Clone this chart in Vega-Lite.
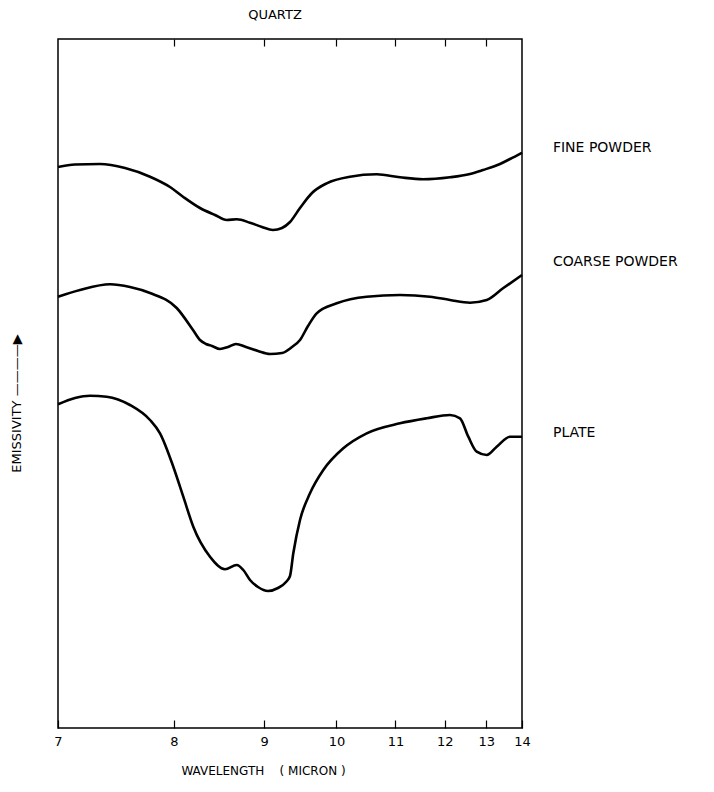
{
  "$schema": "https://vega.github.io/schema/vega-lite/v6.json",
  "width": 464,
  "height": 689,
  "autosize": {"type": "none"},
  "padding": {"left": 58, "top": 39, "right": 192, "bottom": 64},
  "background": "white",
  "config": {
    "view": {"stroke": "black", "strokeWidth": 1.5},
    "font": "DejaVu Sans"
  },
  "title": {"text": "QUARTZ", "fontSize": 13, "fontWeight": "normal", "font": "DejaVu Sans", "color": "black", "offset": 16, "dx": -15},
  "datasets": {
    "curves": [
      {"sample": "FINE POWDER", "wavelength": 7.0, "emissivity": 561},
      {"sample": "FINE POWDER", "wavelength": 7.1306, "emissivity": 563.5},
      {"sample": "FINE POWDER", "wavelength": 7.3318, "emissivity": 564},
      {"sample": "FINE POWDER", "wavelength": 7.5448, "emissivity": 560},
      {"sample": "FINE POWDER", "wavelength": 7.7704, "emissivity": 551.3},
      {"sample": "FINE POWDER", "wavelength": 7.9608, "emissivity": 541},
      {"sample": "FINE POWDER", "wavelength": 8.0897, "emissivity": 531.3},
      {"sample": "FINE POWDER", "wavelength": 8.2646, "emissivity": 520},
      {"sample": "FINE POWDER", "wavelength": 8.4254, "emissivity": 513},
      {"sample": "FINE POWDER", "wavelength": 8.5552, "emissivity": 508},
      {"sample": "FINE POWDER", "wavelength": 8.6694, "emissivity": 508.7},
      {"sample": "FINE POWDER", "wavelength": 8.8261, "emissivity": 505.3},
      {"sample": "FINE POWDER", "wavelength": 8.9724, "emissivity": 501},
      {"sample": "FINE POWDER", "wavelength": 9.1108, "emissivity": 498},
      {"sample": "FINE POWDER", "wavelength": 9.2273, "emissivity": 500},
      {"sample": "FINE POWDER", "wavelength": 9.3333, "emissivity": 506},
      {"sample": "FINE POWDER", "wavelength": 9.4694, "emissivity": 520},
      {"sample": "FINE POWDER", "wavelength": 9.6379, "emissivity": 535},
      {"sample": "FINE POWDER", "wavelength": 9.8528, "emissivity": 544.7},
      {"sample": "FINE POWDER", "wavelength": 10.2138, "emissivity": 551.3},
      {"sample": "FINE POWDER", "wavelength": 10.6614, "emissivity": 553.7},
      {"sample": "FINE POWDER", "wavelength": 11.0853, "emissivity": 550.7},
      {"sample": "FINE POWDER", "wavelength": 11.5382, "emissivity": 548.7},
      {"sample": "FINE POWDER", "wavelength": 12.1194, "emissivity": 550.7},
      {"sample": "FINE POWDER", "wavelength": 12.5892, "emissivity": 554},
      {"sample": "FINE POWDER", "wavelength": 12.9145, "emissivity": 558},
      {"sample": "FINE POWDER", "wavelength": 13.3663, "emissivity": 564},
      {"sample": "FINE POWDER", "wavelength": 13.6471, "emissivity": 569},
      {"sample": "FINE POWDER", "wavelength": 14.0, "emissivity": 575.3},
      {"sample": "COARSE POWDER", "wavelength": 7.0, "emissivity": 431.3},
      {"sample": "COARSE POWDER", "wavelength": 7.17, "emissivity": 438},
      {"sample": "COARSE POWDER", "wavelength": 7.4155, "emissivity": 443.7},
      {"sample": "COARSE POWDER", "wavelength": 7.5888, "emissivity": 441},
      {"sample": "COARSE POWDER", "wavelength": 7.7704, "emissivity": 435},
      {"sample": "COARSE POWDER", "wavelength": 8.0267, "emissivity": 420},
      {"sample": "COARSE POWDER", "wavelength": 8.1917, "emissivity": 398},
      {"sample": "COARSE POWDER", "wavelength": 8.2646, "emissivity": 388},
      {"sample": "COARSE POWDER", "wavelength": 8.3283, "emissivity": 384},
      {"sample": "COARSE POWDER", "wavelength": 8.3928, "emissivity": 382},
      {"sample": "COARSE POWDER", "wavelength": 8.4804, "emissivity": 379},
      {"sample": "COARSE POWDER", "wavelength": 8.5699, "emissivity": 381},
      {"sample": "COARSE POWDER", "wavelength": 8.6613, "emissivity": 384},
      {"sample": "COARSE POWDER", "wavelength": 8.7784, "emissivity": 381},
      {"sample": "COARSE POWDER", "wavelength": 8.9231, "emissivity": 377},
      {"sample": "COARSE POWDER", "wavelength": 9.0727, "emissivity": 374},
      {"sample": "COARSE POWDER", "wavelength": 9.2273, "emissivity": 375},
      {"sample": "COARSE POWDER", "wavelength": 9.3602, "emissivity": 381},
      {"sample": "COARSE POWDER", "wavelength": 9.4694, "emissivity": 388},
      {"sample": "COARSE POWDER", "wavelength": 9.5811, "emissivity": 402},
      {"sample": "COARSE POWDER", "wavelength": 9.7056, "emissivity": 414.7},
      {"sample": "COARSE POWDER", "wavelength": 10.0047, "emissivity": 424.7},
      {"sample": "COARSE POWDER", "wavelength": 10.4892, "emissivity": 431.3},
      {"sample": "COARSE POWDER", "wavelength": 11.0853, "emissivity": 433},
      {"sample": "COARSE POWDER", "wavelength": 11.6834, "emissivity": 431.3},
      {"sample": "COARSE POWDER", "wavelength": 12.1194, "emissivity": 428},
      {"sample": "COARSE POWDER", "wavelength": 12.5892, "emissivity": 425.3},
      {"sample": "COARSE POWDER", "wavelength": 13.0102, "emissivity": 428},
      {"sample": "COARSE POWDER", "wavelength": 13.4493, "emissivity": 439.7},
      {"sample": "COARSE POWDER", "wavelength": 14.0, "emissivity": 453},
      {"sample": "PLATE", "wavelength": 7.0, "emissivity": 323.7},
      {"sample": "PLATE", "wavelength": 7.1306, "emissivity": 330},
      {"sample": "PLATE", "wavelength": 7.25, "emissivity": 332.3},
      {"sample": "PLATE", "wavelength": 7.3877, "emissivity": 331.3},
      {"sample": "PLATE", "wavelength": 7.5888, "emissivity": 323},
      {"sample": "PLATE", "wavelength": 7.7704, "emissivity": 308},
      {"sample": "PLATE", "wavelength": 7.8644, "emissivity": 294.7},
      {"sample": "PLATE", "wavelength": 7.9931, "emissivity": 261.3},
      {"sample": "PLATE", "wavelength": 8.0927, "emissivity": 231.3},
      {"sample": "PLATE", "wavelength": 8.1947, "emissivity": 201.3},
      {"sample": "PLATE", "wavelength": 8.3712, "emissivity": 171.3},
      {"sample": "PLATE", "wavelength": 8.5361, "emissivity": 158.7},
      {"sample": "PLATE", "wavelength": 8.6694, "emissivity": 163},
      {"sample": "PLATE", "wavelength": 8.7464, "emissivity": 158},
      {"sample": "PLATE", "wavelength": 8.8261, "emissivity": 148},
      {"sample": "PLATE", "wavelength": 8.9231, "emissivity": 141},
      {"sample": "PLATE", "wavelength": 9.0474, "emissivity": 137},
      {"sample": "PLATE", "wavelength": 9.1752, "emissivity": 140},
      {"sample": "PLATE", "wavelength": 9.28, "emissivity": 146},
      {"sample": "PLATE", "wavelength": 9.3333, "emissivity": 152},
      {"sample": "PLATE", "wavelength": 9.3778, "emissivity": 174.7},
      {"sample": "PLATE", "wavelength": 9.4694, "emissivity": 208},
      {"sample": "PLATE", "wavelength": 9.6094, "emissivity": 234.7},
      {"sample": "PLATE", "wavelength": 9.8023, "emissivity": 258},
      {"sample": "PLATE", "wavelength": 10.1073, "emissivity": 279.7},
      {"sample": "PLATE", "wavelength": 10.4892, "emissivity": 294.7},
      {"sample": "PLATE", "wavelength": 11.0853, "emissivity": 304.7},
      {"sample": "PLATE", "wavelength": 11.6145, "emissivity": 309.7},
      {"sample": "PLATE", "wavelength": 12.1194, "emissivity": 313},
      {"sample": "PLATE", "wavelength": 12.3498, "emissivity": 309.7},
      {"sample": "PLATE", "wavelength": 12.5478, "emissivity": 291.3},
      {"sample": "PLATE", "wavelength": 12.7548, "emissivity": 276.3},
      {"sample": "PLATE", "wavelength": 13.0102, "emissivity": 273},
      {"sample": "PLATE", "wavelength": 13.276, "emissivity": 281.3},
      {"sample": "PLATE", "wavelength": 13.6471, "emissivity": 291.3},
      {"sample": "PLATE", "wavelength": 14.0, "emissivity": 291.3}
    ],
    "labels": [
      {"sample": "FINE POWDER", "wavelength": 15, "emissivity": 575.7},
      {"sample": "COARSE POWDER", "wavelength": 15, "emissivity": 462.3},
      {"sample": "PLATE", "wavelength": 15, "emissivity": 291.3}
    ]
  },
  "layer": [
    {
      "data": {"name": "curves"},
      "mark": {"type": "line", "interpolate": "monotone", "strokeWidth": 2.6, "color": "black"},
      "encoding": {
        "x": {
          "field": "wavelength",
          "type": "quantitative",
          "scale": {"type": "pow", "exponent": -1, "domain": [7, 14], "nice": false, "zero": false},
          "axis": {
            "orient": "bottom",
            "values": [7, 8, 9, 10, 11, 12, 13, 14],
            "title": "WAVELENGTH\u00a0\u00a0\u00a0\u00a0( MICRON )",
            "domain": false,
            "grid": false,
            "tickSize": -8,
            "tickColor": "black",
            "tickWidth": 1.2,
            "labelFontSize": 13,
            "labelColor": "black",
            "labelPadding": 15,
            "labelFlush": false,
            "labelOverlap": false,
            "titleFontSize": 12,
            "titleFontWeight": "normal",
            "titleColor": "black",
            "titleX": 205,
            "titleY": 37
          }
        },
        "y": {
          "field": "emissivity",
          "type": "quantitative",
          "scale": {"domain": [0, 689], "nice": false, "zero": false},
          "axis": {
            "title": "EMISSIVITY \u2014\u2014\u2014\u2014\u25b6",
            "domain": false,
            "ticks": false,
            "labels": false,
            "grid": false,
            "titleFontSize": 13,
            "titleFontWeight": "normal",
            "titleColor": "black",
            "titleX": -42,
            "titleY": 364,
            "titleAngle": -90,
            "titleBaseline": "middle",
            "titleAlign": "center"
          }
        },
        "detail": {"field": "sample"}
      }
    },
    {
      "data": {"name": "labels"},
      "mark": {"type": "text", "align": "left", "baseline": "alphabetic", "fontSize": 14, "color": "black"},
      "encoding": {
        "x": {
          "field": "wavelength",
          "type": "quantitative",
          "axis": {
            "orient": "top",
            "values": [8, 9, 10, 11, 12, 13],
            "labels": false,
            "title": null,
            "domain": false,
            "grid": false,
            "tickSize": -7,
            "tickColor": "black",
            "tickWidth": 1.2
          }
        },
        "y": {"field": "emissivity", "type": "quantitative"},
        "text": {"field": "sample"}
      }
    }
  ],
  "resolve": {"axis": {"x": "independent"}}
}
